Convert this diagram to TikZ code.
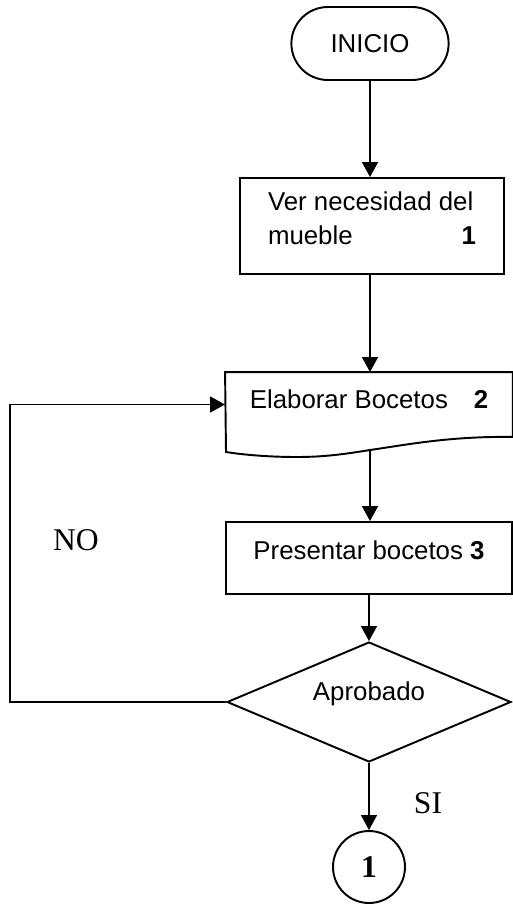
\documentclass[tikz,border=0pt]{standalone}
\usepackage{fontspec}
\setmainfont{Liberation Sans}
\newfontfamily\serifnum{Liberation Serif}
\usetikzlibrary{shapes.geometric}
\usetikzlibrary{shapes.misc}
\usetikzlibrary{arrows.meta}

\begin{document}
\begin{tikzpicture}[x=0.02cm, y=-0.02cm, line width=1.1pt,
	font=\fontsize{14.7}{19.3}\selectfont,
	flow/.style={-{Triangle[length=8.5pt,width=9pt]}},
	procbox/.style={draw, rectangle, align=left, inner sep=0pt},
	romanlbl/.style={font=\serifnum\fontsize{18}{20}\selectfont}]
	\useasboundingbox (0,0) rectangle (512,910);

	\node[draw, rounded rectangle, minimum width=3.38cm, minimum height=1.46cm] (inicio) at (370,43.5) {INICIO};
	\node[procbox, minimum width=5.28cm, minimum height=1.92cm, text depth=8.5pt] (ver) at (372,226) {Ver necesidad del\\mueble\hspace{62pt}\textbf{1}};
	\node[rectangle, align=left, inner sep=0pt, minimum width=5.72cm, minimum height=1.26cm, text depth=5.7pt] (elab) at (369,404.5) {Elaborar Bocetos\quad\textbf{2}};
	\node[procbox, minimum width=5.72cm, minimum height=1.44cm, text depth=9.2pt] (pres) at (369,558) {Presentar bocetos \textbf{3}};
	\node[draw, diamond, aspect=2.37, inner sep=0pt, minimum width=5.68cm, minimum height=2.4cm, text depth=12pt] (diam) at (369,702) {Aprobado};
	\node[draw, circle, inner sep=0pt, minimum size=1.44cm, font=\serifnum\fontsize{18}{20}\selectfont\bfseries] (conn) at (369,867) {1};

	\node[romanlbl] (no) at (76,540) {NO};
	\node[romanlbl] (si) at (428,803) {SI};

	\coordinate (elabw) at (370,450);
	\coordinate (loop) at (10,702);

	\draw (elabw) .. controls (405,445) and (450,436) .. (elab.south east) -- (elab.north east) -- (elab.north west) -- (226,452)
		.. controls (245,455) and (270,457) .. (297,457) .. controls (325,457) and (345,454) .. (elabw);

	\draw[flow] (inicio.south) -- (inicio.south |- ver.north);
	\draw[flow] (inicio.south |- ver.south) -- (inicio.south |- elab.north);
	\draw[flow] (elabw) -- (elabw |- pres.north);
	\draw[flow] (diam.north |- pres.south) -- (diam.north);
	\draw[flow] (diam.south) -- (conn.north);
	\draw[flow] (diam.west) -- (loop) |- (elab.west);
\end{tikzpicture}
\end{document}
